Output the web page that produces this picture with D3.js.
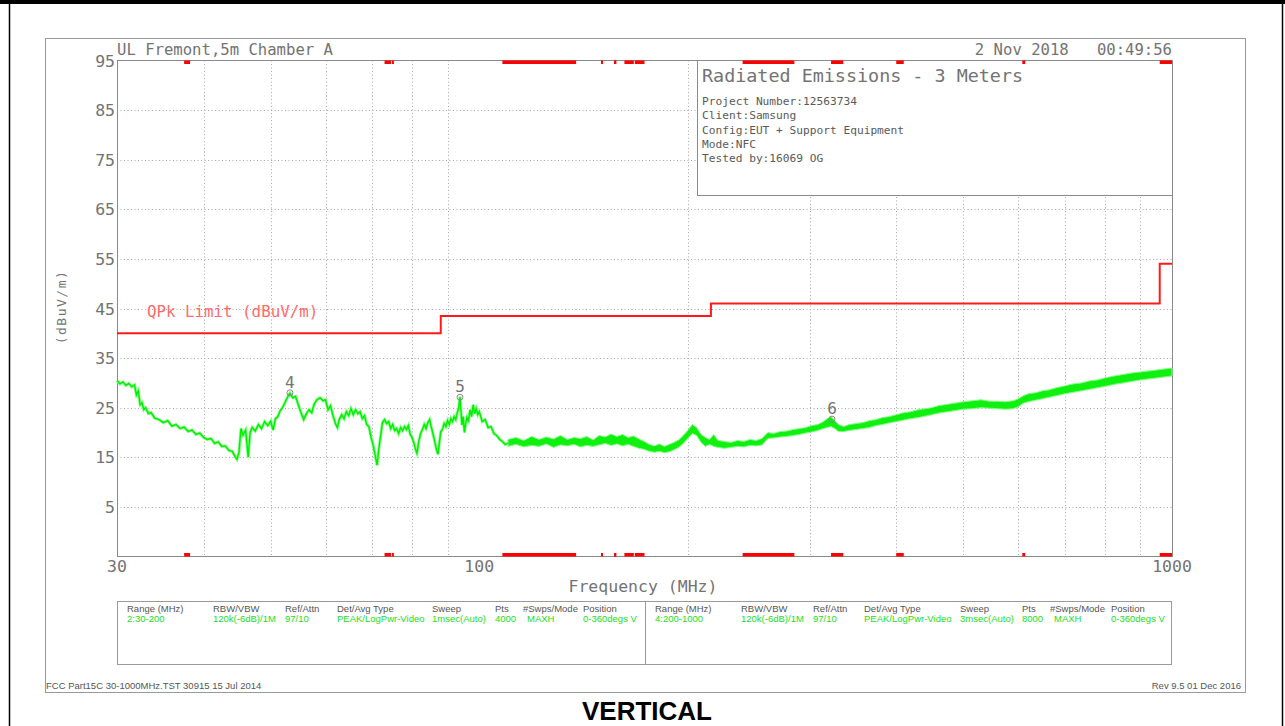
<!DOCTYPE html>
<html>
<head>
<meta charset="utf-8">
<script src="https://cdn.jsdelivr.net/npm/d3@7"></script>
<style>
  html, body { margin: 0; padding: 0; background: #fff; }
  svg { display: block; }
</style>
</head>
<body>
<svg id="chart" width="1285" height="726"></svg>
<script>
// ---- Data ----------------------------------------------------------------
// Range 2 (30-110 MHz): peak trace, frequency (MHz) and level (dBuV/m)
const lowFreq = [30.0, 30.3, 30.6, 30.9, 31.2, 31.5, 31.8, 32.0, 32.2, 32.4, 32.6, 32.8, 33.0, 33.3, 33.6, 34.0, 34.5, 35.0, 35.5, 36.0,
  36.5, 37.0, 37.5, 38.0, 38.5, 39.0, 39.5, 40.0, 40.5, 41.0, 41.5, 42.0, 42.5, 43.0, 43.5, 44.0, 44.4, 44.7, 45.0, 45.3,
  45.6, 46.0, 46.4, 46.7, 47.0, 47.5, 48.0, 48.5, 49.0, 49.5, 50.0, 50.4, 50.8, 51.2, 51.6, 52.0, 52.5, 53.0, 53.3, 53.8,
  54.3, 54.8, 55.3, 55.8, 56.3, 56.8, 57.3, 57.8, 58.3, 58.9, 59.5, 60.0, 60.5, 61.0, 61.5, 62.0, 62.4, 62.8, 63.3, 63.8,
  64.3, 64.8, 65.3, 65.8, 66.3, 66.8, 67.3, 67.8, 68.3, 68.8, 69.3, 69.8, 70.3, 70.8, 71.2, 71.6, 72.0, 72.5, 73.0, 73.5,
  74.0, 74.5, 75.0, 75.5, 76.0, 76.5, 77.0, 77.5, 78.0, 78.5, 79.0, 79.5, 80.0, 80.5, 81.0, 81.3, 81.8, 82.3, 82.8, 83.3,
  83.8, 84.3, 84.8, 85.3, 85.8, 86.3, 86.8, 87.2, 87.6, 88.0, 88.5, 89.0, 89.5, 90.0, 90.5, 91.0, 91.5, 92.0, 92.5, 93.0,
  93.4, 93.8, 94.1, 94.4, 94.8, 95.2, 95.6, 96.0, 96.5, 97.0, 97.5, 98.0, 98.5, 99.0, 99.5, 100, 101, 102, 103, 104,
  105, 106, 107, 108, 109, 110];
const lowLevel = [30.5, 29.8, 30.2, 29.5, 29.9, 29.2, 29.6, 27.6, 28.4, 25.6, 26.0, 24.6, 25.0, 23.8, 24.0, 22.9, 22.6, 22.0, 22.4, 21.3,
  21.6, 20.8, 21.1, 20.2, 20.5, 19.6, 19.9, 19.0, 18.6, 18.8, 17.8, 18.1, 17.2, 17.3, 16.4, 16.2, 15.2, 14.6, 16.0, 20.8,
  19.5, 20.5, 15.0, 20.0, 21.0, 20.3, 21.6, 20.8, 22.2, 21.4, 22.3, 20.5, 22.8, 23.2, 24.4, 25.0, 26.2, 27.4, 27.9, 27.0,
  27.3, 25.6, 24.0, 22.6, 23.8, 24.6, 24.0, 25.8, 26.6, 27.0, 26.4, 26.6, 24.6, 25.4, 23.4, 21.8, 21.0, 22.6, 23.6, 22.8,
  24.2, 23.4, 24.8, 23.6, 24.6, 23.8, 24.2, 22.8, 23.4, 21.6, 21.2, 19.0, 17.4, 15.2, 13.4, 16.5, 19.0, 22.0, 22.6, 21.8,
  22.2, 20.8, 21.6, 20.4, 20.8, 19.8, 21.0, 20.4, 21.2, 20.6, 21.4, 19.6, 19.0, 17.8, 16.4, 15.8, 18.2, 19.8, 20.6, 21.6,
  20.8, 22.0, 22.6, 21.0, 19.6, 18.0, 16.4, 15.6, 18.0, 20.2, 20.6, 21.8, 21.2, 22.4, 21.6, 22.8, 22.2, 23.2, 22.6, 24.0,
  25.0, 27.2, 24.5, 21.5, 23.2, 20.0, 21.8, 23.0, 22.4, 24.6, 23.2, 25.6, 23.8, 24.8, 23.6, 24.2, 22.2, 22.6, 21.0, 21.2,
  19.8, 19.4, 18.6, 18.2, 17.6, 17.8];

// Ranges 2/4 (110-1000 MHz): swept trace, frequency (MHz) with its lower and upper edge (dBuV/m)
const highFreq = [110, 113, 116, 119, 122, 125, 128, 131, 134, 137, 140, 143, 146, 149, 152, 155, 158, 161, 164, 167,
  170, 173, 176, 179, 182, 185, 188, 191, 194, 197, 200, 203, 206, 209, 212, 215, 218, 221, 226, 231,
  236, 241, 246, 251, 256, 261, 266, 272, 278, 284, 290, 296, 302, 308, 314, 318, 322, 326, 330, 336,
  342, 350, 358, 366, 374, 382, 390, 400, 410, 420, 430, 440, 450, 460, 470, 480, 490, 500, 515, 530,
  545, 560, 575, 590, 600, 610, 620, 635, 650, 665, 680, 700, 720, 740, 760, 780, 800, 825, 850, 875,
  900, 925, 950, 975, 1000];
const highLow = [17.2, 17.6, 17.1, 17.4, 17.2, 17.7, 17.0, 17.5, 17.3, 17.6, 17.1, 17.4, 17.2, 17.5, 17.8, 17.4, 17.7, 17.3, 17.6, 17.2,
  16.8, 16.6, 16.2, 16.0, 16.2, 15.9, 16.1, 16.5, 17.0, 17.8, 18.8, 19.8, 19.4, 18.0, 17.2, 17.6, 17.2, 17.0, 16.8, 17.0,
  17.2, 17.1, 17.4, 17.3, 17.5, 18.8, 18.9, 19.1, 19.2, 19.4, 19.6, 19.9, 20.1, 20.4, 20.8, 21.0, 21.2, 20.8, 20.2, 20.2,
  20.4, 20.6, 20.8, 21.0, 21.4, 21.6, 21.9, 22.2, 22.5, 22.8, 23.0, 23.3, 23.6, 23.9, 24.1, 24.3, 24.5, 24.7, 24.8, 25.0,
  24.9, 24.8, 24.7, 24.8, 25.2, 25.9, 26.2, 26.5, 26.8, 27.1, 27.4, 27.8, 28.1, 28.4, 28.7, 29.0, 29.3, 29.7, 30.0, 30.3,
  30.6, 30.8, 31.0, 31.2, 31.4];
const highHigh = [18.6, 19.0, 18.4, 19.2, 18.6, 19.1, 18.7, 19.4, 18.6, 19.0, 18.8, 19.2, 18.5, 19.4, 19.1, 19.7, 19.2, 19.6, 19.0, 19.3,
  18.7, 18.2, 17.6, 17.3, 17.7, 17.2, 17.6, 18.0, 18.5, 19.4, 20.4, 21.6, 21.0, 19.6, 19.0, 18.6, 19.6, 18.4, 18.2, 18.0,
  18.4, 18.2, 18.6, 18.4, 18.8, 20.0, 19.8, 20.2, 20.3, 20.6, 20.8, 21.0, 21.4, 21.6, 22.2, 22.8, 23.2, 22.4, 21.6, 21.2,
  21.6, 21.8, 22.0, 22.4, 22.6, 23.0, 23.2, 23.6, 24.0, 24.2, 24.6, 24.8, 25.0, 25.4, 25.6, 25.8, 26.0, 26.2, 26.4, 26.6,
  26.3, 26.3, 26.2, 26.4, 26.8, 27.4, 27.8, 28.0, 28.4, 28.6, 29.0, 29.4, 29.8, 30.0, 30.4, 30.6, 31.0, 31.4, 31.7, 32.0,
  32.2, 32.4, 32.6, 32.8, 33.0];

// QPk limit steps (MHz start/end, dBuV/m)
const limitStart = [30, 88, 216, 960];
const limitEnd   = [88, 216, 960, 1000];
const limitLevel = [40, 43.5, 46, 54];

// Restricted bands marked on the top and bottom edges (MHz)
const bandStart = [37.5, 73, 74.8, 108, 149.9, 156.52475, 156.7, 162.0125, 167.72, 240, 322, 399.9, 608, 960];
const bandEnd   = [38.25, 74.6, 75.2, 138, 150.05, 156.52525, 156.9, 167.17, 173.2, 285, 335.4, 410, 614, 1000];

// Numbered markers
const markerId    = ["4", "5", "6"];
const markerFreq  = [53.3, 93.8, 323];
const markerLevel = [27.8, 26.9, 22.5];

// Axis ticks
const yTicks = [95, 85, 75, 65, 55, 45, 35, 25, 15, 5];
const xTickLabels = [30, 100, 1000];
const xGrid = [40, 50, 60, 70, 80, 90, 200, 300, 400, 500, 600, 700, 800, 900];

// Header and settings tables
const infoLines = ["Project Number:12563734", "Client:Samsung", "Config:EUT + Support Equipment", "Mode:NFC", "Tested by:16069 OG"];
const tableHeads = ["Range (MHz)", "RBW/VBW", "Ref/Attn", "Det/Avg Type", "Sweep", "Pts", "#Swps/Mode", "Position"];
const tableRow1 = ["2:30-200", "120k(-6dB)/1M", "97/10", "PEAK/LogPwr-Video", "1msec(Auto)", "4000", "MAXH", "0-360degs V"];
const tableRow2 = ["4:200-1000", "120k(-6dB)/1M", "97/10", "PEAK/LogPwr-Video", "3msec(Auto)", "8000", "MAXH", "0-360degs V"];

// ---- Layout --------------------------------------------------------------
const svg = d3.select("#chart");
const plot = { left: 117, right: 1172, top: 60.5, bottom: 556.5 };
const mono = "'DejaVu Sans Mono', 'Liberation Mono', monospace";
const gray = "#737373";

const x = d3.scaleLog().domain([30, 1000]).range([plot.left, plot.right]);
const y = d3.scaleLinear().domain([-5, 95]).range([plot.bottom, plot.top]);

// Outer page frame
svg.append("rect").attr("x", 0).attr("y", 0).attr("width", 1285).attr("height", 4).attr("fill", "#000");
svg.append("line").attr("x1", 9.5).attr("x2", 9.5).attr("y1", 2).attr("y2", 726).attr("stroke", "#000").attr("stroke-width", 1.5);
svg.append("line").attr("x1", 1282.5).attr("x2", 1282.5).attr("y1", 2).attr("y2", 726).attr("stroke", "#000").attr("stroke-width", 1.5);

// Plot sheet frame
svg.append("rect").attr("x", 45.5).attr("y", 38.5).attr("width", 1200).attr("height", 654)
  .attr("fill", "none").attr("stroke", "#9a9a9a").attr("stroke-width", 1);

// Grid
const grid = svg.append("g").attr("stroke", "#a8a8a8").attr("stroke-width", 1).attr("stroke-dasharray", "1,2.5");
grid.selectAll("line.h").data(yTicks.filter(d => d < 95)).join("line")
  .attr("x1", plot.left).attr("x2", plot.right)
  .attr("y1", d => Math.round(y(d)) + 0.5).attr("y2", d => Math.round(y(d)) + 0.5);
grid.selectAll("line.v").data(xGrid).join("line")
  .attr("x1", d => Math.round(x(d)) + 0.5).attr("x2", d => Math.round(x(d)) + 0.5)
  .attr("y1", plot.top).attr("y2", plot.bottom);

// Info box (covers the grid in the upper right)
const box = { x: 697, y: plot.top, w: plot.right - 697, h: 135 };
svg.append("rect").attr("x", box.x + 0.5).attr("y", box.y).attr("width", box.w).attr("height", box.h)
  .attr("fill", "#fff").attr("stroke", "#8a8a8a");
svg.append("text").attr("x", 702).attr("y", 82).attr("font-family", mono).attr("font-size", 18.4)
  .attr("fill", gray).text("Radiated Emissions - 3 Meters");
svg.append("g").selectAll("text").data(infoLines).join("text")
  .attr("x", 702).attr("y", (d, i) => 105 + i * 14.3)
  .attr("font-family", mono).attr("font-size", 11.2).attr("fill", "#5a5a5a").text(d => d);

// Plot border
svg.append("rect").attr("x", plot.left + 0.5).attr("y", plot.top).attr("width", plot.right - plot.left)
  .attr("height", plot.bottom - plot.top).attr("fill", "none").attr("stroke", "#8a8a8a");

// Restricted bands on top and bottom edges
const bands = d3.range(bandStart.length).map(i => ({ a: bandStart[i], b: bandEnd[i] }));
["top", "bottom"].forEach(edge => {
  svg.append("g").selectAll("rect").data(bands).join("rect")
    .attr("x", d => x(d.a)).attr("width", d => Math.max(2, x(d.b) - x(d.a)))
    .attr("y", edge === "top" ? plot.top : plot.bottom - 3.5).attr("height", 3.5)
    .attr("fill", "#ff0000");
});

// Limit line
const limitPts = [];
limitStart.forEach((s, i) => { limitPts.push([s, limitLevel[i]], [limitEnd[i], limitLevel[i]]); });
svg.append("path").datum(limitPts)
  .attr("d", d3.line().x(d => x(d[0])).y(d => y(d[1])))
  .attr("fill", "none").attr("stroke", "#ff1a1a").attr("stroke-width", 2);
svg.append("text").attr("x", 147).attr("y", 317).attr("font-family", mono).attr("font-size", 15.8)
  .attr("fill", "#ff6a6a").text("QPk Limit (dBuV/m)");

// Measured trace: swept band above 110 MHz, single peak line below
const high = highFreq.map((f, i) => ({ f, lo: highLow[i], hi: highHigh[i] }));
svg.append("path").datum(high)
  .attr("d", d3.area().x(d => x(d.f)).y0(d => y(d.lo)).y1(d => y(d.hi)))
  .attr("fill", "#10f010").attr("stroke", "#80ff80").attr("stroke-width", 1);
const low = lowFreq.map((f, i) => ({ f, v: lowLevel[i] }));
const lowLine = d3.line().x(d => x(d.f)).y(d => y(d.v));
svg.append("path").datum(low).attr("d", lowLine)
  .attr("fill", "none").attr("stroke", "#88ff88").attr("stroke-width", 3);
svg.append("path").datum(low).attr("d", lowLine)
  .attr("fill", "none").attr("stroke", "#00ee00").attr("stroke-width", 1.4);

// Markers
const markers = markerId.map((id, i) => ({ id, f: markerFreq[i], v: markerLevel[i] }));
const mg = svg.append("g").selectAll("g").data(markers).join("g")
  .attr("transform", d => `translate(${x(d.f)},${y(d.v)})`);
mg.append("ellipse").attr("rx", 3).attr("ry", 3).attr("cy", -1).attr("fill", "none").attr("stroke", "#888").attr("stroke-width", 1);
mg.append("text").attr("y", -6).attr("text-anchor", "middle").attr("font-family", mono)
  .attr("font-size", 16).attr("fill", gray).text(d => d.id);

// Axis tick labels
svg.append("g").selectAll("text").data(yTicks).join("text")
  .attr("x", plot.left - 2).attr("y", d => y(d) + 6)
  .attr("text-anchor", "end").attr("font-family", mono).attr("font-size", 16.5).attr("fill", gray)
  .text(d => d);
svg.append("g").selectAll("text").data(xTickLabels).join("text")
  .attr("x", d => x(d)).attr("y", 572)
  .attr("text-anchor", "middle").attr("font-family", mono).attr("font-size", 16.5).attr("fill", gray)
  .text(d => d);

// Axis titles
svg.append("text").attr("x", 643).attr("y", 592).attr("text-anchor", "middle")
  .attr("font-family", mono).attr("font-size", 16.5).attr("fill", gray).text("Frequency (MHz)");
svg.append("text").attr("transform", "translate(66,307) rotate(-90)").attr("text-anchor", "middle")
  .attr("font-family", mono).attr("font-size", 13).attr("letter-spacing", 1.5).attr("fill", gray).text("(dBuV/m)");

// Header line
svg.append("text").attr("x", 117).attr("y", 55).attr("font-family", mono).attr("font-size", 15.6)
  .attr("fill", gray).text("UL Fremont,5m Chamber A");
svg.append("text").attr("x", 1172).attr("y", 55).attr("text-anchor", "end").attr("font-family", mono)
  .attr("font-size", 15.6).attr("fill", gray).attr("xml:space", "preserve").text("2 Nov 2018   00:49:56");

// Settings table
svg.append("rect").attr("x", 117.5).attr("y", 601.5).attr("width", 1054).attr("height", 63)
  .attr("fill", "none").attr("stroke", "#9a9a9a");
svg.append("line").attr("x1", 645.5).attr("x2", 645.5).attr("y1", 601.5).attr("y2", 664.5).attr("stroke", "#9a9a9a");
const colL = [127, 213, 285, 337, 432, 495, 523, 583];
const colR = [655, 741, 813, 864, 960, 1022, 1050, 1111];
const sans = "'Liberation Sans Narrow', 'Liberation Sans', Arial, sans-serif";
[[colL, tableRow1], [colR, tableRow2]].forEach(([cols, row]) => {
  svg.append("g").selectAll("text").data(tableHeads).join("text")
    .attr("x", (d, i) => cols[i]).attr("y", 612).attr("font-family", sans).attr("font-size", 9.5)
    .attr("fill", "#555").text(d => d);
  svg.append("g").selectAll("text").data(row).join("text")
    .attr("x", (d, i) => cols[i] + (i === 6 ? 4 : 0)).attr("y", 622).attr("font-family", sans).attr("font-size", 9.5)
    .attr("fill", "#22dd22").text(d => d);
});

// Footer
svg.append("text").attr("x", 46).attr("y", 689).attr("font-family", sans).attr("font-size", 9.5)
  .attr("fill", "#555").text("FCC Part15C 30-1000MHz.TST 30915 15 Jul 2014");
svg.append("text").attr("x", 1241).attr("y", 689).attr("text-anchor", "end").attr("font-family", sans).attr("font-size", 9.5)
  .attr("fill", "#555").text("Rev 9.5 01 Dec 2016");
svg.append("text").attr("x", 647).attr("y", 720).attr("text-anchor", "middle")
  .attr("font-family", "'Liberation Sans', Arial, sans-serif").attr("font-weight", "bold").attr("font-size", 26)
  .attr("fill", "#000").text("VERTICAL");
</script>
</body>
</html>
